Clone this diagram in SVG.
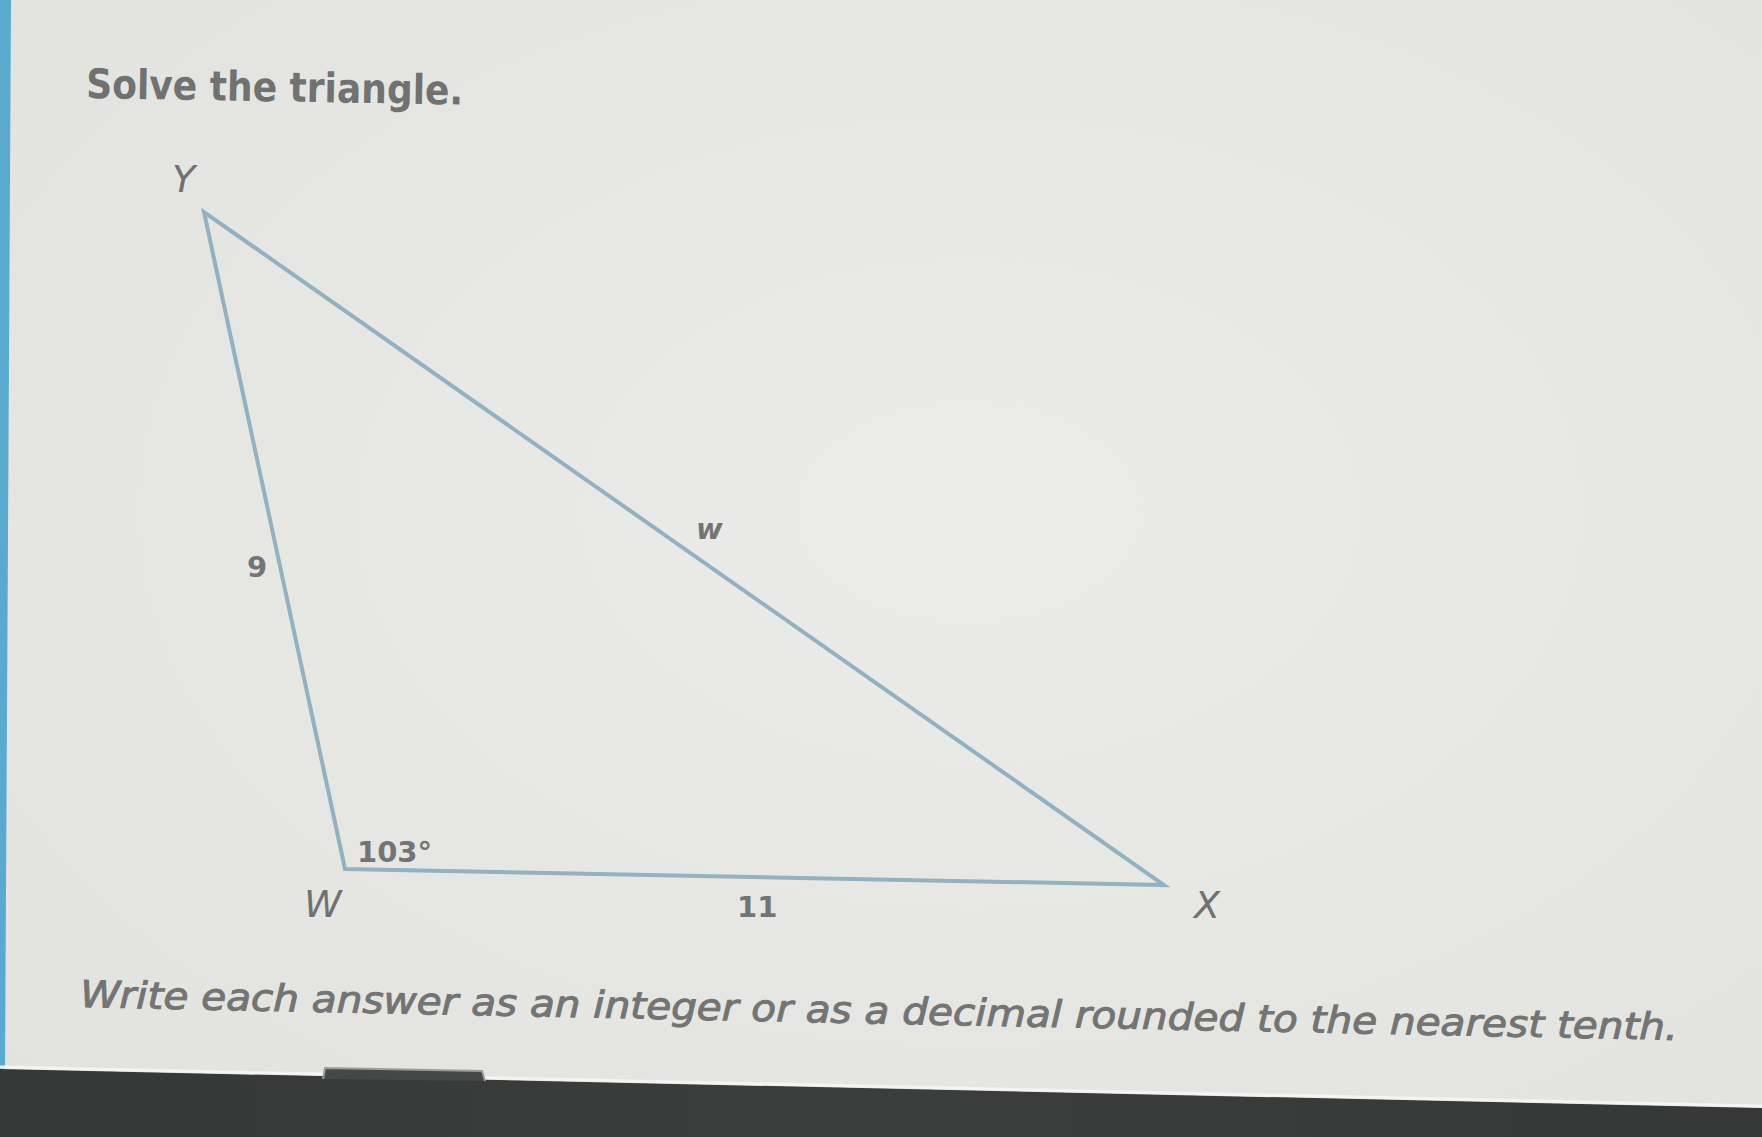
<svg xmlns="http://www.w3.org/2000/svg" width="1762" height="1137" viewBox="0 0 1762 1137">
  <defs>
    <radialGradient id="bg" cx="0.55" cy="0.45" r="0.75">
      <stop offset="0" stop-color="#ebece9"/>
      <stop offset="1" stop-color="#e2e3df"/>
    </radialGradient>
    <linearGradient id="band" x1="0" y1="0" x2="1" y2="0">
      <stop offset="0" stop-color="#363837"/>
      <stop offset="0.5" stop-color="#3c3e3d"/>
      <stop offset="1" stop-color="#363737"/>
    </linearGradient>
    <style>
      .title { font-family: "DejaVu Sans", "Liberation Sans", sans-serif; font-weight: bold; fill: #707170; }
      .vert { font-family: "DejaVu Sans", "Liberation Sans", sans-serif; font-style: italic; fill: #707170; font-size: 38px; }
      .num { font-family: "DejaVu Sans", "Liberation Sans", sans-serif; font-weight: bold; fill: #737473; font-size: 29px; }
      .side { fill: none; stroke: #93b1c1; stroke-width: 4; stroke-linejoin: miter; stroke-linecap: round; }
      .note { font-family: "DejaVu Sans", "Liberation Sans", sans-serif; font-style: italic; fill: #737473; stroke: #737473; stroke-width: 1; font-size: 37px; }
    </style>
  </defs>

  <rect x="0" y="0" width="1762" height="1137" fill="url(#bg)"/>
  <polygon points="0,0 11,0 5,1069 0,1069" fill="#5aaad0"/>

  <text class="title" x="86" y="98" font-size="41" textLength="377" lengthAdjust="spacingAndGlyphs" transform="rotate(1 86 98)">Solve the triangle.</text>

  <g id="connectors">
    <polygon class="side" points="204,212 345,869 1164,885"/>
  </g>

  <g id="Y"><text class="vert" x="172" y="192">Y</text></g>
  <g id="W"><text class="vert" x="304" y="917">W</text></g>
  <g id="X"><text class="vert" x="1194" y="918">X</text></g>

  <g id="label-9"><text class="num" x="247" y="577">9</text></g>
  <g id="label-w"><text class="num" font-style="italic" x="696" y="539">w</text></g>
  <g id="label-103"><text class="num" x="357" y="862">103°</text></g>
  <g id="label-11"><text class="num" x="737" y="917">11</text></g>

  <text class="note" x="80" y="1007" textLength="1598" lengthAdjust="spacingAndGlyphs" transform="rotate(1.18 80 1007)">Write each answer as an integer or as a decimal rounded to the nearest tenth.</text>

  <polygon points="0,1069 1762,1108 1762,1137 0,1137" fill="url(#band)"/>
  <line x1="0" y1="1067" x2="1762" y2="1106" stroke="#f4f5f3" stroke-width="3"/>
  <path d="M323,1079 L325,1068 L482,1071 L485,1081" fill="#464847" stroke="#9a9c9b" stroke-width="2"/>
</svg>
